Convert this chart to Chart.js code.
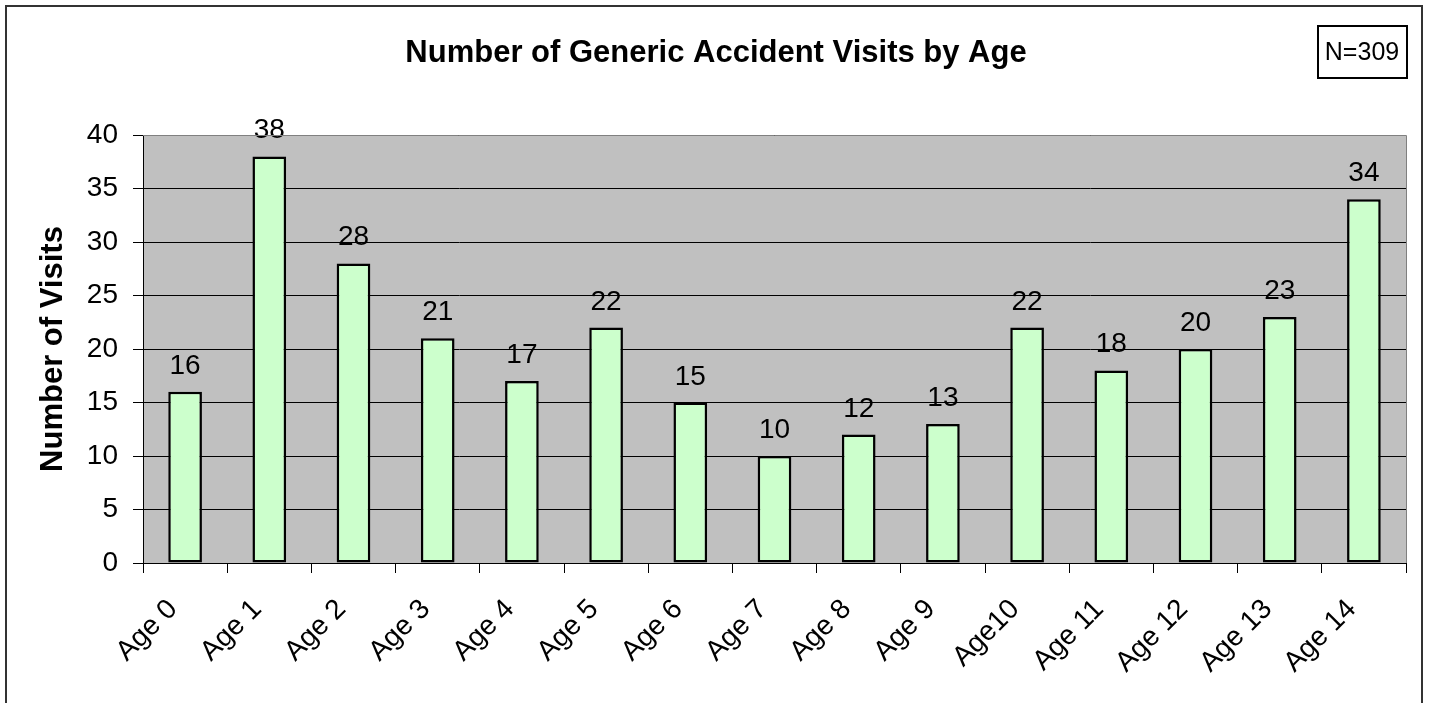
<!DOCTYPE html>
<html>
<head>
<meta charset="utf-8">
<script src="https://cdn.jsdelivr.net/npm/chart.js@4"></script>
<style>
  html, body { margin: 0; padding: 0; background: #fff; }
  #wrap { position: relative; width: 1429px; height: 703px; }
  #frame { position: absolute; left: 5px; top: 5px; width: 1418px; height: 710px; border: 2px solid #333; box-sizing: border-box; }
</style>
</head>
<body>
<div id="wrap">
  <div id="frame"></div>
  <canvas id="grafico" width="1429" height="703"></canvas>
</div>
<script>
const categories = ['Age 0', 'Age 1', 'Age 2', 'Age 3', 'Age 4', 'Age 5', 'Age 6', 'Age 7',
                    'Age 8', 'Age 9', 'Age10', 'Age 11', 'Age 12', 'Age 13', 'Age 14'];
const visits = [16, 38, 28, 21, 17, 22, 15, 10, 12, 13, 22, 18, 20, 23, 34];
const yTicks = [0, 5, 10, 15, 20, 25, 30, 35, 40];
const titolo = 'Number of Generic Accident Visits by Age';
const nLabel = 'N=309';

const FONT = 'Arial, "Liberation Sans", sans-serif';

// sfondo grigio, etichette sopra le barre, titolo e riquadro N
const extras = {
    id: 'extras',
    beforeDraw(chart) {
        const { ctx, chartArea } = chart;
        ctx.save();
        ctx.fillStyle = '#c0c0c0';
        ctx.fillRect(chartArea.left, chartArea.top, chartArea.right - chartArea.left, chartArea.bottom - chartArea.top);
        ctx.restore();
    },
    afterDatasetsDraw(chart) {
        const { ctx, chartArea } = chart;
        const meta = chart.getDatasetMeta(0);
        ctx.save();
        ctx.font = '28px ' + FONT;
        ctx.fillStyle = '#000';
        ctx.textAlign = 'center';
        ctx.textBaseline = 'alphabetic';
        meta.data.forEach((bar, i) => {
            ctx.fillText(String(visits[i]), bar.x, bar.y - 18);
        });

        // bordo area grafico
        ctx.strokeStyle = '#808080';
        ctx.lineWidth = 1;
        ctx.beginPath();
        ctx.moveTo(chartArea.left, chartArea.top + 0.5);
        ctx.lineTo(chartArea.right + 0.5, chartArea.top + 0.5);
        ctx.lineTo(chartArea.right + 0.5, chartArea.bottom);
        ctx.stroke();

        // titolo
        ctx.font = 'bold 31px ' + FONT;
        ctx.textBaseline = 'middle';
        ctx.fillText(titolo, 716, 53);

        // riquadro N
        ctx.strokeStyle = '#000';
        ctx.lineWidth = 2;
        ctx.strokeRect(1318, 26, 89, 52);
        ctx.font = '25px ' + FONT;
        ctx.fillText(nLabel, 1362, 53);
        ctx.restore();
    }
};

new Chart(document.getElementById('grafico'), {
    type: 'bar',
    data: {
        labels: categories,
        datasets: [{
            label: 'Number of Visits',
            data: visits,
            backgroundColor: '#ccffcc',
            borderColor: '#000',
            borderWidth: 2.5,
            borderSkipped: false,
            barPercentage: 0.8,
            categoryPercentage: 0.5
        }]
    },
    options: {
        responsive: false,
        animation: false,
        layout: { padding: { top: 135, right: 23, left: 0, bottom: 0 } },
        plugins: {
            legend: { display: false },
            tooltip: { enabled: false }
        },
        scales: {
            x: {
                offset: true,
                grid: {
                    offset: true,
                    drawOnChartArea: false,
                    drawTicks: true,
                    tickLength: 10,
                    color: '#000'
                },
                border: { color: '#000', width: 1 },
                ticks: {
                    color: '#000',
                    font: { family: FONT, size: 28 },
                    minRotation: 45,
                    maxRotation: 45,
                    padding: 20,
                    labelOffset: -12,
                    autoSkip: false
                },
                afterFit(scale) { scale.height = 140; }
            },
            y: {
                min: 0,
                max: 40,
                afterBuildTicks(scale) { scale.ticks = yTicks.map(v => ({ value: v })); },
                grid: {
                    color: '#000',
                    tickLength: 10,
                    drawTicks: true
                },
                border: { color: '#000', width: 1 },
                ticks: {
                    color: '#000',
                    font: { family: FONT, size: 28 },
                    padding: 15
                },
                title: {
                    display: true,
                    text: 'Number of Visits',
                    color: '#000',
                    font: { family: FONT, size: 31, weight: 'bold' },
                    padding: { top: 35, bottom: 0 }
                },
                afterFit(scale) { scale.width = 143; }
            }
        }
    },
    plugins: [extras]
});
</script>
</body>
</html>
